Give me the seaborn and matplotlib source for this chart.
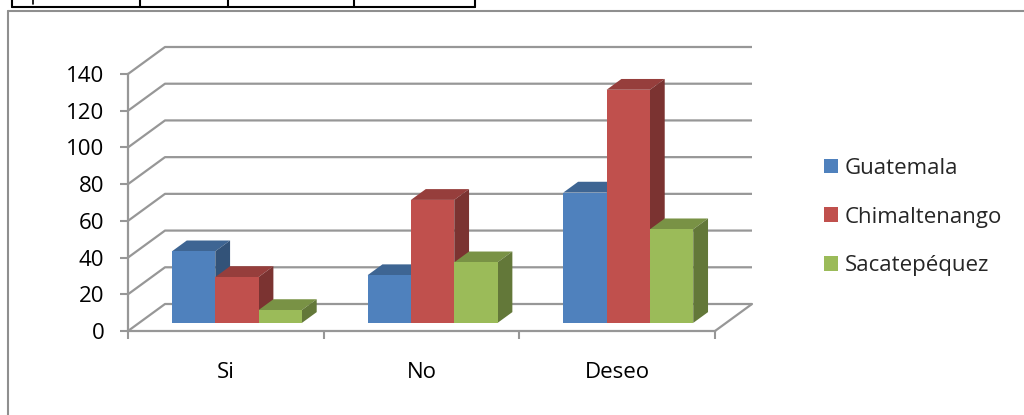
import numpy as np
import pandas as pd
import matplotlib
matplotlib.use("Agg")
import matplotlib.pyplot as plt
import seaborn as sns
from matplotlib.patches import Polygon, Rectangle
from matplotlib.lines import Line2D
from matplotlib import transforms

# ---- data ----
categories = ["Si", "No", "Deseo"]
series_names = ["Guatemala", "Chimaltenango", "Sacatepéquez"]
guatemala = [39, 26, 71]
chimaltenango = [25, 67, 127]
sacatepequez = [7, 33, 51]
y_ticks = [0, 20, 40, 60, 80, 100, 120, 140]

colors = ["#4F81BD", "#C0504D", "#9BBB59"]

sns.set_theme(style="white")
plt.rcParams["font.family"] = ["Open Sans", "DejaVu Sans"]

FS = 16
W, H = 1024, 415
fig = plt.figure(figsize=(W / 100, H / 100), dpi=100)
fig.patch.set_facecolor("white")
ax = fig.add_axes([128 / W, (H - 331) / H, 587 / W, (331 - 74) / H])
ax.set_facecolor("none")

rows = []
for name, vals in zip(series_names, [guatemala, chimaltenango, sacatepequez]):
    for c, v in zip(categories, vals):
        rows.append({"category": c, "region": name, "value": v})
df = pd.DataFrame(rows)

sns.barplot(data=df, x="category", y="value", hue="region", order=categories,
            hue_order=series_names, palette=colors, width=0.664, saturation=1,
            ax=ax, legend=False, linewidth=0, edgecolor="none", errorbar=None)
ax.set_xlim(-0.5, 2.5)
ax.set_ylim(0, 140)
ax.set_xlabel("")
ax.set_ylabel("")

# depth of the floor in pixels (oblique projection)
DEPTH = np.array([37.0, 27.0])


def P(x, y, f):
    d = ax.transData.transform((x, y)) + f * DEPTH
    return ax.transData.inverted().transform(d)


grid_c = "#979797"
# back wall and side wall gridlines
for t in y_ticks:
    pts = np.array([P(-0.5, t, 0), P(-0.5, t, 1), P(2.5, t, 1)])
    ax.plot(pts[:, 0], pts[:, 1], color=grid_c, lw=1.6, clip_on=False, zorder=0.5,
            solid_capstyle="butt")
pts = np.array([P(2.5, 0, 0), P(2.5, 0, 1)])
ax.plot(pts[:, 0], pts[:, 1], color=grid_c, lw=1.6, clip_on=False, zorder=0.5)

# 3D bars
F0, F1 = 0.3, 0.7
front_tr = transforms.offset_copy(ax.transData, fig=fig, x=F0 * DEPTH[0],
                                  y=F0 * DEPTH[1], units="dots")
patches = sorted(ax.patches, key=lambda p: p.get_x())
for i, p in enumerate(patches):
    x0 = p.get_x()
    w = p.get_width()
    h = p.get_height()
    x1 = x0 + w
    fc = np.array(p.get_facecolor()[:3])
    base = 2 + i * 0.01
    p.set_transform(front_tr)
    p.set_clip_on(False)
    p.set_zorder(base + 0.005)
    top = Polygon([P(x0, h, F0), P(x1, h, F0), P(x1, h, F1), P(x0, h, F1)],
                  closed=True, facecolor=fc * 0.78, edgecolor="none",
                  zorder=base, clip_on=False)
    side = Polygon([P(x1, 0, F0), P(x1, h, F0), P(x1, h, F1), P(x1, 0, F1)],
                   closed=True, facecolor=fc * 0.64, edgecolor="none",
                   zorder=base, clip_on=False)
    ax.add_patch(top)
    ax.add_patch(side)

# axes styling
for s in ["top", "right"]:
    ax.spines[s].set_visible(False)
for s in ["left", "bottom"]:
    ax.spines[s].set_color(grid_c)
    ax.spines[s].set_linewidth(1.6)
    ax.spines[s].set_zorder(0.6)

ax.set_yticks(y_ticks)
ax.tick_params(axis="y", left=True, length=6, width=1.5, color=grid_c, pad=11,
               labelsize=FS, labelcolor="black", direction="out")
ax.set_xticks(range(len(categories)))
ax.set_xticklabels(categories)
ax.set_xticks([-0.5, 0.5, 1.5, 2.5], minor=True)
ax.tick_params(axis="x", which="minor", bottom=True, length=6, width=1.5,
               color=grid_c, direction="out")
ax.tick_params(axis="x", which="major", bottom=True, length=0, pad=22,
               labelsize=FS, labelcolor="black")

# legend
handles = [Rectangle((0, 0), 1, 1, facecolor=c, edgecolor="none") for c in colors]
fig.legend(handles, series_names, loc="center left",
           bbox_to_anchor=(824 / W, (H - 217) / H), frameon=False, fontsize=FS,
           handlelength=0.63, handleheight=0.63, handletextpad=0.3,
           labelspacing=1.25, borderpad=0, borderaxespad=0)

# chart frame (left and top edges visible)
fig.add_artist(Line2D([8 / W, 8 / W], [0, (H - 11) / H], color="#8f8f8f", lw=1.5,
                      transform=fig.transFigure))
fig.add_artist(Line2D([8 / W, 1], [(H - 11) / H, (H - 11) / H], color="#8f8f8f",
                      lw=1.5, transform=fig.transFigure))

# remnant of table above the chart
ty = (H - 7) / H
fig.add_artist(Line2D([12 / W, 475 / W], [ty, ty], color="black", lw=1.5,
                      transform=fig.transFigure))
for xv in [12, 140, 228, 354, 475]:
    fig.add_artist(Line2D([xv / W, xv / W], [ty, 1], color="black", lw=1.5,
                          transform=fig.transFigure))
fig.add_artist(Line2D([33 / W, 33 / W], [(H - 4) / H, 1], color="black", lw=1.2,
                      transform=fig.transFigure))

fig.savefig("out.png", dpi=100)
